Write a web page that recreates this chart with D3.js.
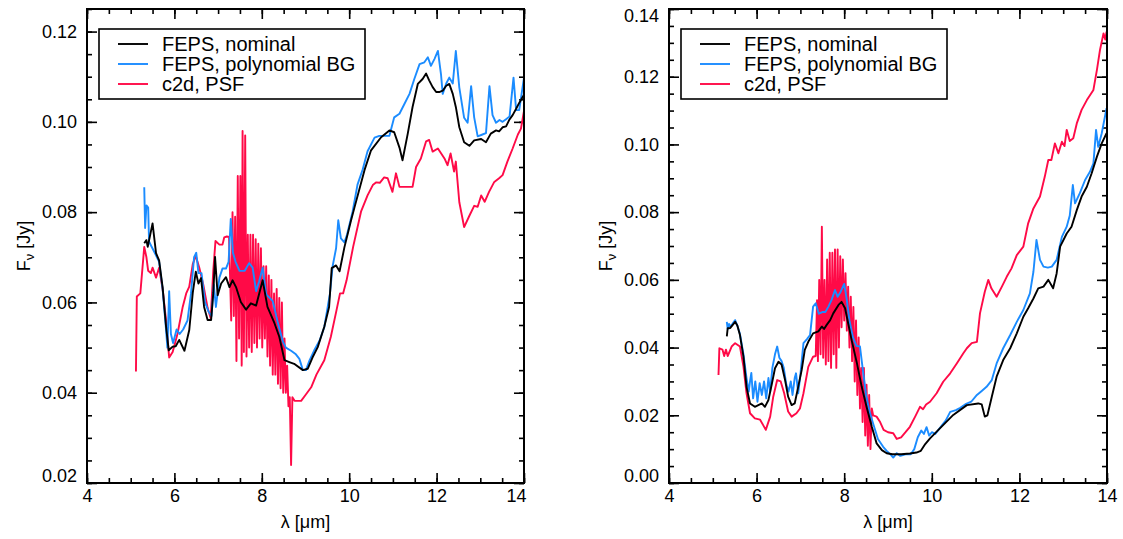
<!DOCTYPE html>
<html>
<head>
<meta charset="utf-8">
<script src="https://cdn.jsdelivr.net/npm/d3@7"></script>
<style>
body { margin: 0; background: #fff; }
text { font-family: "Liberation Sans", Arial, Helvetica, sans-serif; fill: #000; }
</style>
</head>
<body>
<script>
// series names / legend
var seriesNames = ["FEPS, nominal", "FEPS, polynomial BG", "c2d, PSF"];
var seriesColors = ["#000000", "#1b8cff", "#ff0a47"];

var xTicks = [4, 6, 8, 10, 12, 14];
var leftYTicks = [0.02, 0.04, 0.06, 0.08, 0.10, 0.12];
var rightYTicks = [0.00, 0.02, 0.04, 0.06, 0.08, 0.10, 0.12, 0.14];

/* spectra: [wavelength (um), flux (Jy)] */
var leftNominal = [
  [5.31,0.0731],[5.36,0.0738],[5.39,0.0723],[5.50,0.0775],[5.58,0.0709],[5.65,0.0693],[5.73,0.0634],
  [5.81,0.0546],[5.87,0.0494],[5.96,0.0502],[6.03,0.0503],[6.11,0.0517],[6.23,0.0493],[6.34,0.0539],
  [6.42,0.0621],[6.49,0.0668],[6.55,0.0642],[6.61,0.0654],[6.68,0.059],[6.76,0.0561],[6.84,0.0561],
  [6.89,0.0621],[6.93,0.0701],[6.99,0.0616],[7.07,0.0642],[7.18,0.0656],[7.26,0.0634],[7.33,0.0649],
  [7.41,0.0634],[7.52,0.0601],[7.64,0.0584],[7.75,0.0598],[7.87,0.0593],[8.02,0.0649],[8.13,0.059],
  [8.29,0.0554],[8.40,0.0524],[8.52,0.0472],[8.63,0.0468],[8.74,0.0464],[8.94,0.045],[9.05,0.0453],
  [9.16,0.0478],[9.28,0.0501],[9.43,0.0546],[9.54,0.059],[9.60,0.0676],[9.70,0.0682],[9.78,0.0669],
  [9.89,0.0722],[10.04,0.0781],[10.12,0.081],[10.35,0.0893],[10.50,0.0937],[10.73,0.0966],[10.92,0.0981],
  [11.03,0.0977],[11.15,0.0943],[11.22,0.0915],[11.34,0.0974],[11.45,0.1033],[11.57,0.1084],[11.68,0.1095],
  [11.76,0.1107],[11.83,0.1092],[11.91,0.1077],[11.99,0.1066],[12.06,0.1066],[12.14,0.1069],[12.22,0.108],
  [12.29,0.1084],[12.37,0.1062],[12.44,0.1033],[12.52,0.0988],[12.63,0.0955],[12.75,0.0947],[12.86,0.0959],
  [13.02,0.0962],[13.13,0.0955],[13.24,0.0974],[13.36,0.0981],[13.43,0.0979],[13.51,0.0988],[13.59,0.099],
  [13.66,0.1004],[13.74,0.1015],[13.82,0.1029],[13.89,0.1042],[13.97,0.1055],[14.0,0.106]
];

var leftPoly = [
  [5.31,0.0855],[5.33,0.0765],[5.36,0.0815],[5.40,0.081],[5.42,0.0735],[5.47,0.0725],[5.55,0.071],
  [5.65,0.069],[5.73,0.063],[5.80,0.055],[5.84,0.050],[5.88,0.0625],[5.92,0.053],[5.97,0.051],[6.05,0.054],
  [6.12,0.053],[6.20,0.054],[6.30,0.056],[6.38,0.062],[6.45,0.070],[6.50,0.071],[6.55,0.0665],[6.62,0.0665],
  [6.70,0.060],[6.78,0.058],[6.85,0.057],[6.90,0.064],[6.95,0.059],[7.03,0.0655],[7.10,0.0675],[7.18,0.0675],
  [7.24,0.069],[7.29,0.0785],[7.34,0.071],[7.40,0.069],[7.49,0.067],[7.61,0.067],[7.71,0.0687],[7.79,0.0677],
  [7.87,0.0625],[7.94,0.0647],[8.02,0.0677],[8.10,0.0618],[8.18,0.061],[8.25,0.0603],[8.36,0.0558],
  [8.48,0.0514],[8.55,0.050],[8.67,0.0493],[8.78,0.0485],[8.86,0.0475],[8.94,0.045],[9.01,0.045],
  [9.09,0.0471],[9.20,0.0494],[9.32,0.0515],[9.43,0.0545],[9.56,0.062],[9.62,0.068],[9.70,0.072],
  [9.75,0.0782],[9.81,0.0742],[9.89,0.0733],[9.95,0.075],[10.08,0.0802],[10.19,0.0861],[10.31,0.0895],
  [10.42,0.0935],[10.58,0.0965],[10.69,0.0969],[10.81,0.0969],[10.92,0.0969],[11.03,0.101],[11.15,0.1018],
  [11.26,0.1039],[11.38,0.1062],[11.49,0.1095],[11.61,0.1128],[11.72,0.1132],[11.80,0.1143],[11.87,0.1124],
  [11.95,0.1139],[12.03,0.1157],[12.10,0.1106],[12.14,0.1062],[12.22,0.1085],[12.29,0.1098],[12.37,0.1085],
  [12.44,0.1157],[12.52,0.1076],[12.63,0.1009],[12.71,0.0998],[12.79,0.1079],[12.86,0.101],[12.94,0.0968],
  [13.05,0.0972],[13.13,0.0975],[13.21,0.1079],[13.28,0.1015],[13.36,0.0998],[13.44,0.1004],[13.51,0.100],
  [13.59,0.1006],[13.67,0.1012],[13.76,0.1098],[13.82,0.1026],[13.89,0.1026],[14.0,0.1098]
];

var leftPsf = [
  [5.12,0.0447],[5.14,0.0613],[5.22,0.062],[5.31,0.0723],[5.36,0.070],[5.40,0.067],[5.46,0.0665],
  [5.50,0.0677],[5.58,0.0655],[5.65,0.0677],[5.73,0.063],[5.81,0.056],[5.88,0.0478],[5.96,0.049],
  [6.07,0.053],[6.19,0.059],[6.27,0.062],[6.34,0.0635],[6.42,0.0685],[6.49,0.0703],[6.57,0.0677],
  [6.66,0.064],[6.76,0.0588],[6.83,0.0565],[6.89,0.0671],[6.94,0.0736],[7.03,0.0728],[7.10,0.0728],
  [7.14,0.0744],[7.20,0.0746],[7.25,0.0745],
  [7.30,0.056],[7.33,0.080],[7.36,0.057],[7.39,0.079],[7.42,0.047],[7.45,0.088],[7.48,0.052],[7.51,0.088],
  [7.54,0.046],[7.56,0.098],[7.59,0.049],[7.62,0.097],[7.65,0.048],[7.68,0.075],[7.71,0.050],[7.74,0.075],
  [7.77,0.049],[7.80,0.075],[7.83,0.051],[7.86,0.074],[7.89,0.050],[7.92,0.073],[7.95,0.052],[7.98,0.072],
  [8.01,0.050],[8.04,0.068],[8.07,0.052],[8.10,0.068],[8.13,0.048],[8.16,0.066],[8.19,0.046],[8.22,0.065],
  [8.25,0.044],[8.28,0.062],[8.31,0.044],[8.34,0.063],[8.37,0.042],[8.40,0.061],[8.43,0.041],[8.46,0.060],
  [8.49,0.040],[8.52,0.052],[8.55,0.040],[8.58,0.046],[8.61,0.037],[8.64,0.039],[8.67,0.024],[8.70,0.039],
  [8.75,0.0382],[8.90,0.0382],[9.00,0.0395],[9.13,0.0412],[9.25,0.044],[9.43,0.0472],[9.58,0.0524],
  [9.71,0.0583],[9.79,0.062],[9.86,0.062],[9.94,0.0649],[10.09,0.0723],[10.27,0.0801],[10.42,0.0837],
  [10.54,0.086],[10.62,0.0866],[10.70,0.0865],[10.80,0.0877],[10.88,0.0875],[10.99,0.0845],[11.07,0.0886],
  [11.15,0.0856],[11.30,0.0856],[11.45,0.0856],[11.53,0.090],[11.64,0.0919],[11.76,0.0957],[11.83,0.096],
  [11.91,0.0934],[12.03,0.0941],[12.18,0.0919],[12.25,0.0904],[12.32,0.093],[12.40,0.089],[12.44,0.0912],
  [12.52,0.0822],[12.63,0.0767],[12.75,0.0792],[12.86,0.0814],[12.94,0.0812],[13.02,0.0837],[13.10,0.0823],
  [13.20,0.0845],[13.32,0.0867],[13.43,0.0875],[13.51,0.0882],[13.62,0.0912],[13.74,0.0941],[13.86,0.0972],
  [13.93,0.0985],[14.0,0.1024]
];

var rightNominal = [
  [5.32,0.0433],[5.34,0.0457],[5.40,0.0458],[5.51,0.0476],[5.56,0.0465],[5.62,0.0437],[5.70,0.0373],
  [5.77,0.0284],[5.85,0.0235],[5.96,0.0225],[6.04,0.023],[6.12,0.0235],[6.19,0.0225],[6.27,0.0245],
  [6.35,0.0294],[6.42,0.0339],[6.50,0.0358],[6.57,0.035],[6.65,0.0304],[6.72,0.0255],[6.80,0.023],
  [6.87,0.0235],[6.95,0.0284],[7.03,0.0334],[7.10,0.0393],[7.18,0.0417],[7.29,0.0442],[7.41,0.0448],
  [7.49,0.0462],[7.54,0.0455],[7.60,0.0467],[7.68,0.0481],[7.75,0.0501],[7.87,0.0526],[7.94,0.0535],
  [8.02,0.0516],[8.09,0.0472],[8.17,0.0422],[8.29,0.0354],[8.40,0.0284],[8.51,0.0225],[8.63,0.0166],
  [8.74,0.0117],[8.86,0.0097],[8.97,0.0088],[9.10,0.0085],[9.30,0.0085],[9.50,0.0087],[9.65,0.009],
  [9.75,0.0095],[9.85,0.0115],[9.96,0.0132],[10.19,0.0162],[10.49,0.0201],[10.80,0.023],[11.06,0.0235],
  [11.14,0.0232],[11.21,0.0196],[11.27,0.020],[11.37,0.0255],[11.48,0.0314],[11.63,0.0363],[11.79,0.0398],
  [11.94,0.0442],[12.09,0.0491],[12.20,0.0516],[12.32,0.0545],[12.43,0.0575],[12.55,0.058],[12.66,0.060],
  [12.77,0.0575],[12.85,0.0619],[12.93,0.0698],[13.08,0.0737],[13.19,0.0757],[13.31,0.0806],[13.42,0.0846],
  [13.54,0.0875],[13.65,0.0915],[13.77,0.0964],[13.88,0.1003],[13.99,0.1033]
];

var rightPoly = [
  [5.32,0.0476],[5.34,0.0455],[5.37,0.047],[5.40,0.0462],[5.45,0.047],[5.51,0.0481],[5.56,0.0465],
  [5.62,0.044],[5.70,0.038],[5.77,0.031],[5.82,0.027],[5.85,0.030],[5.88,0.0325],[5.92,0.025],[5.97,0.030],
  [6.02,0.024],[6.07,0.0295],[6.12,0.026],[6.17,0.030],[6.22,0.025],[6.27,0.031],[6.31,0.027],[6.36,0.034],
  [6.42,0.038],[6.47,0.0403],[6.52,0.037],[6.57,0.036],[6.62,0.034],[6.68,0.029],[6.73,0.027],[6.78,0.030],
  [6.82,0.026],[6.87,0.031],[6.90,0.0324],[6.95,0.0265],[7.00,0.032],[7.07,0.0413],[7.15,0.0425],
  [7.22,0.0437],[7.29,0.0521],[7.35,0.0531],[7.42,0.050],[7.50,0.0505],[7.57,0.0505],[7.64,0.0521],
  [7.71,0.054],[7.79,0.057],[7.85,0.055],[7.92,0.0565],[8.00,0.0588],[8.06,0.054],[8.12,0.048],[8.20,0.043],
  [8.28,0.0405],[8.36,0.0403],[8.42,0.034],[8.50,0.026],[8.58,0.021],[8.66,0.0176],[8.77,0.013],
  [8.89,0.0107],[8.97,0.0095],[9.05,0.0085],[9.12,0.0075],[9.20,0.0088],[9.28,0.008],[9.40,0.0085],
  [9.52,0.0085],[9.60,0.010],[9.68,0.0135],[9.76,0.0155],[9.82,0.0145],[9.88,0.0165],[9.94,0.014],
  [10.00,0.015],[10.08,0.0145],[10.20,0.0165],[10.32,0.0185],[10.42,0.021],[10.55,0.0215],[10.65,0.0222],
  [10.76,0.0232],[10.90,0.024],[11.03,0.026],[11.14,0.0272],[11.25,0.0284],[11.37,0.0304],[11.48,0.0353],
  [11.63,0.0398],[11.79,0.0437],[11.94,0.0476],[12.09,0.0511],[12.24,0.056],[12.32,0.0624],[12.39,0.0718],
  [12.47,0.0659],[12.55,0.0639],[12.65,0.0636],[12.74,0.0639],[12.85,0.0659],[12.97,0.0727],[13.08,0.0757],
  [13.15,0.079],[13.22,0.088],[13.27,0.0826],[13.38,0.0856],[13.50,0.0895],[13.61,0.0919],[13.69,0.0944],
  [13.75,0.1043],[13.80,0.0993],[13.88,0.1033],[13.99,0.1107]
];

var rightPsf = [
  [5.13,0.0319],[5.15,0.0398],[5.22,0.0394],[5.26,0.0375],[5.30,0.0394],[5.34,0.0375],[5.43,0.0403],
  [5.51,0.0413],[5.62,0.0403],[5.70,0.0344],[5.77,0.0265],[5.85,0.0206],[5.96,0.0191],[6.08,0.0187],
  [6.15,0.0171],[6.21,0.0157],[6.31,0.0196],[6.38,0.0255],[6.47,0.0304],[6.55,0.030],[6.63,0.0265],
  [6.72,0.0211],[6.80,0.0196],[6.91,0.0206],[6.99,0.022],[7.07,0.0265],[7.18,0.0343],[7.29,0.0373],
  [7.35,0.0375],
  [7.38,0.054],[7.40,0.036],[7.43,0.060],[7.46,0.038],[7.49,0.0757],[7.52,0.037],[7.55,0.060],[7.58,0.035],
  [7.61,0.066],[7.64,0.036],[7.67,0.068],[7.70,0.034],[7.73,0.068],[7.76,0.038],[7.79,0.069],[7.82,0.034],
  [7.85,0.069],[7.88,0.040],[7.91,0.067],[7.94,0.046],[7.97,0.066],[8.00,0.048],[8.03,0.062],[8.06,0.045],
  [8.09,0.058],[8.12,0.040],[8.15,0.055],[8.18,0.036],[8.21,0.052],[8.24,0.030],[8.27,0.048],[8.30,0.026],
  [8.33,0.043],[8.36,0.022],[8.39,0.034],[8.42,0.018],[8.45,0.034],[8.48,0.014],[8.51,0.029],[8.54,0.011],
  [8.57,0.026],[8.60,0.010],[8.63,0.022],
  [8.66,0.020],[8.74,0.0196],[8.82,0.018],[8.90,0.0157],[9.00,0.015],[9.12,0.0147],[9.20,0.013],
  [9.30,0.0135],[9.40,0.015],[9.50,0.0166],[9.62,0.0196],[9.73,0.0225],[9.80,0.0218],[9.87,0.0232],
  [9.96,0.024],[10.11,0.0265],[10.26,0.0299],[10.42,0.0324],[10.57,0.0353],[10.72,0.0383],[10.80,0.0398],
  [10.91,0.0413],[11.03,0.0417],[11.10,0.0501],[11.21,0.0565],[11.29,0.060],[11.36,0.0575],[11.48,0.055],
  [11.60,0.058],[11.71,0.0609],[11.82,0.0634],[11.94,0.0673],[12.09,0.0698],[12.20,0.0767],[12.32,0.0811],
  [12.47,0.0846],[12.58,0.0905],[12.66,0.0954],[12.73,0.0954],[12.81,0.1003],[12.89,0.0974],[12.97,0.1008],
  [13.03,0.0995],[13.08,0.1043],[13.15,0.101],[13.23,0.1018],[13.31,0.1062],[13.42,0.1102],[13.54,0.1131],
  [13.69,0.1161],[13.77,0.122],[13.84,0.1279],[13.92,0.1328],[13.96,0.131],[13.99,0.1333]
];

var W = 1123, H = 539;
var svg = d3.select("body").append("svg")
    .attr("width", W)
    .attr("height", H);

var panels = [
  { left: 87, right: 524, top: 9, bottom: 483, yDomain: [0.02, 0.125], yTicks: leftYTicks,
    series: [leftNominal, leftPoly, leftPsf], yLabelX: 24, lastXShift: -8 },
  { left: 669, right: 1107, top: 9, bottom: 483, yDomain: [0, 0.14], yTicks: rightYTicks,
    series: [rightNominal, rightPoly, rightPsf], yLabelX: 606, lastXShift: 0 }
];

function range(a, b, step){
  var out = [];
  for (var v = a; v <= b + 1e-9; v += step) out.push(+v.toFixed(4));
  return out;
}

panels.forEach(function(p){
  var xScale = d3.scaleLinear().domain([4, 14]).range([p.left, p.right]);
  var yScale = d3.scaleLinear().domain(p.yDomain).range([p.bottom, p.top]);
  var g = svg.append("g");

  var xMinor = range(4, 14, 0.5);
  var yMinor = range(p.yDomain[0], p.yDomain[1], 0.005);
  var fmt = d3.format(".2f");

  //axes: major + minor ticks on all four sides, pointing inward
  function drawAxis(axisFn, scale, values, size, translate, labels, padding){
    var a = axisFn(scale).tickValues(values).tickSizeInner(-size).tickSizeOuter(0)
      .tickPadding(padding || 0);
    a.tickFormat(labels ? (scale === xScale ? d3.format("d") : fmt) : "");
    var ag = g.append("g").attr("transform", translate).call(a);
    ag.select(".domain").remove();
    ag.selectAll("line").attr("stroke", "#000").attr("stroke-width", 1.6);
    ag.selectAll("text").style("font-size", "18px").attr("fill", "#000")
      .style("font-family", "'Liberation Sans', Arial, sans-serif");
    return ag;
  }

  var bx = drawAxis(d3.axisBottom, xScale, xTicks, 10, "translate(0," + p.bottom + ")", true, 6);
  drawAxis(d3.axisBottom, xScale, xMinor, 5, "translate(0," + p.bottom + ")", false);
  drawAxis(d3.axisTop, xScale, xTicks, 10, "translate(0," + p.top + ")", false);
  drawAxis(d3.axisTop, xScale, xMinor, 5, "translate(0," + p.top + ")", false);
  var ly = drawAxis(d3.axisLeft, yScale, p.yTicks, 10, "translate(" + p.left + ",0)", true, 10);
  drawAxis(d3.axisLeft, yScale, yMinor, 5, "translate(" + p.left + ",0)", false);
  drawAxis(d3.axisRight, yScale, p.yTicks, 10, "translate(" + p.right + ",0)", false);
  drawAxis(d3.axisRight, yScale, yMinor, 5, "translate(" + p.right + ",0)", false);

  // end labels are nudged inside the frame
  bx.selectAll(".tick text").filter(function(d){ return d === 14; }).attr("dx", p.lastXShift);
  ly.selectAll(".tick text").attr("dy", function(d){
    if (Math.abs(d - p.yDomain[0]) < 1e-9) return "-0.1em";
    if (Math.abs(d - p.yDomain[1]) < 1e-9) return "0.7em";
    return "0.32em";
  });

  //data, red first so the others sit on top
  var valueline = d3.line()
      .x(function(d){ return xScale(d[0]); })
      .y(function(d){ return yScale(d[1]); });
  [2, 1, 0].forEach(function(i){
    g.append("path")
      .datum(p.series[i])
      .attr("fill", "none")
      .attr("stroke", seriesColors[i])
      .attr("stroke-width", 1.9)
      .attr("stroke-linejoin", "round")
      .attr("d", valueline);
  });

  g.append("rect")
    .attr("x", p.left).attr("y", p.top)
    .attr("width", p.right - p.left).attr("height", p.bottom - p.top)
    .attr("fill", "none").attr("stroke", "#000").attr("stroke-width", 2);

  //legend
  var lx = p.left + 12, ly0 = 29;
  g.append("rect")
    .attr("x", lx).attr("y", ly0).attr("width", 266).attr("height", 70)
    .attr("fill", "#fff").attr("stroke", "#000").attr("stroke-width", 1.6);
  seriesNames.forEach(function(name, i){
    var yy = ly0 + 15 + i * 20;
    g.append("line")
      .attr("x1", lx + 19).attr("x2", lx + 49).attr("y1", yy).attr("y2", yy)
      .attr("stroke", seriesColors[i]).attr("stroke-width", 1.9);
    g.append("text")
      .attr("x", lx + 63).attr("y", yy + 7)
      .style("font-size", "20px")
      .text(name);
  });

  //axis titles
  var midX = (p.left + p.right) / 2, midY = (p.top + p.bottom) / 2;
  g.append("text")
    .attr("x", midX).attr("y", 528)
    .attr("text-anchor", "middle")
    .style("font-size", "18px")
    .text("\u03bb [\u03bcm]");
  var yl = g.append("text")
    .attr("transform", "translate(" + (p.yLabelX + 6) + "," + midY + ") rotate(-90)")
    .attr("text-anchor", "middle")
    .style("font-size", "18px");
  yl.append("tspan").text("F");
  yl.append("tspan").attr("dy", 4).style("font-size", "13px").text("\u03bd");
  yl.append("tspan").attr("dy", -4).text(" [Jy]");
});
</script>
</body>
</html>
